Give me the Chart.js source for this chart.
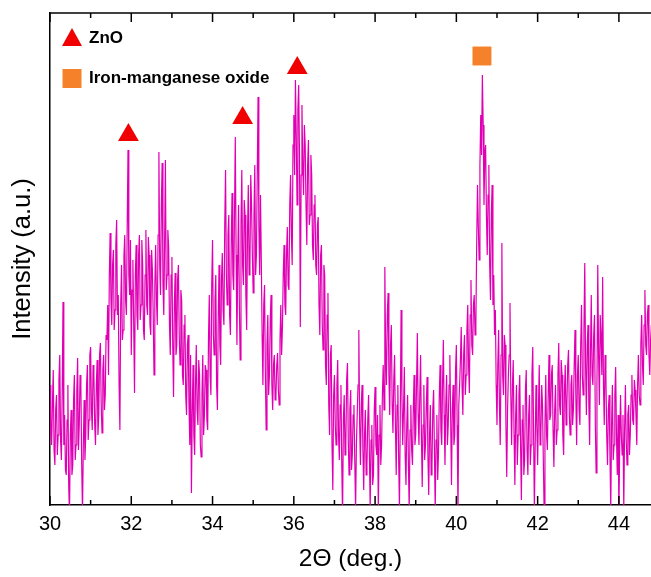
<!DOCTYPE html>
<html>
<head>
<meta charset="utf-8">
<script src="https://cdn.jsdelivr.net/npm/chart.js@4.4.1/dist/chart.umd.min.js"></script>
<style>
  html, body { margin: 0; padding: 0; background: #fff; overflow: hidden; }
  #c { display: block; }
</style>
</head>
<body>
<canvas id="c" width="651" height="577"></canvas>
<script>
// ---- data ----
const thetaStart = 30.0;   // first 2θ sample (deg)
const thetaStep = 0.02;    // sampling step (deg)
const intensity = [
  // 30.00 – 30.98
  120,70,60,100,135,55,40,95,110,50,70,125,150,65,45,110,203,60,90,35,30,85,120,20,-10,70,95,30,40,105,130,45,60,115,147,55,80,130,120,40,-8,60,105,45,70,120,140,65,85,150,
  // 31.00 – 31.98
  158,95,75,140,130,80,60,120,145,70,90,150,162,100,72,135,150,95,110,170,165,200,130,230,272,205,180,240,255,175,195,260,285,190,210,120,75,200,240,165,175,250,270,205,190,280,355,230,210,265,
  // 32.00 – 32.98
  150,215,245,180,112,230,260,190,175,250,270,185,200,265,240,175,165,230,275,200,190,268,250,180,170,255,235,190,130,220,260,205,180,270,353,240,210,300,342,220,190,260,345,215,230,275,258,180,150,230,
  // 33.00 – 33.98
  248,160,108,200,232,150,160,225,240,170,140,215,205,130,120,180,190,110,90,160,170,100,60,150,12,90,140,70,50,120,160,95,80,145,130,60,48,110,150,70,90,140,135,85,75,165,210,130,110,220,
  // 34.00 – 34.98
  265,170,150,205,230,120,95,185,240,160,140,225,252,195,180,280,335,230,200,270,290,190,170,260,312,230,215,290,368,250,160,240,300,200,145,280,335,240,220,305,290,210,175,270,320,230,240,330,300,250,
  // 35.00 – 35.98
  212,290,340,230,250,330,408,280,230,310,245,170,120,200,220,130,75,160,190,110,130,185,210,120,95,140,150,105,110,140,152,115,100,165,200,150,178,230,260,200,190,250,278,220,215,300,330,270,240,360,
  // 36.00 – 36.98
  390,330,425,370,300,395,420,350,178,330,400,340,310,380,360,300,260,340,365,280,290,350,330,260,245,300,310,240,230,280,288,200,170,250,260,180,155,240,230,140,120,190,212,100,70,150,160,60,15,110,
  // 37.00 – 37.98
  130,80,60,120,145,70,45,100,120,40,-10,85,110,50,60,125,142,65,30,95,115,35,50,90,100,45,-5,60,90,120,175,80,40,100,120,55,15,70,95,30,40,85,110,50,-5,65,80,20,30,95,
  // 38.00 – 38.98
  118,60,50,90,-8,70,100,40,60,110,140,95,238,150,120,190,212,130,90,160,180,100,72,125,150,80,30,100,120,45,-5,90,195,110,60,95,138,50,20,80,110,40,-6,75,100,55,40,95,130,60,
  // 39.00 – 39.98
  70,120,172,90,60,110,150,70,18,80,120,45,60,100,128,50,10,70,100,30,40,95,115,55,-5,65,90,25,50,110,140,75,60,120,165,90,40,100,130,60,80,120,150,85,20,95,120,60,70,135,
  // 40.00 – 40.98
  160,80,-8,100,120,145,178,120,90,150,170,110,130,175,200,140,112,190,225,160,150,200,210,170,180,260,320,280,245,340,390,350,430,380,300,350,360,290,250,310,340,240,205,290,320,200,230,170,195,120,
  // 41.00 – 41.98
  80,140,175,100,60,150,262,130,110,170,160,80,28,95,130,150,202,110,60,120,145,70,20,90,120,40,70,110,130,60,5,85,100,30,45,115,135,55,30,90,110,40,60,130,158,75,-5,60,120,80,
  // 42.00 – 42.98
  40,95,140,60,70,120,100,45,-5,80,130,70,55,110,150,85,90,130,140,75,38,95,120,60,75,130,162,100,90,145,130,70,50,115,140,80,100,140,155,90,70,120,130,80,95,140,175,110,60,130,
  // 43.00 – 43.98
  150,95,80,160,200,130,110,175,242,140,90,160,180,100,60,150,210,130,120,170,190,80,32,120,240,150,100,190,170,130,228,120,80,150,130,70,40,95,110,50,-5,80,120,45,60,110,138,70,30,90,
  // 44.00 – 44.80
  -8,60,110,70,50,90,-5,75,120,65,40,90,100,50,70,110,130,85,80,125,115,90,60,120,150,110,100,160,190,140,120,180,215,160,150,190,200,150,130,165,180
];
const znoPeaks = [31.93, 34.74, 36.085];        // 2θ of ZnO markers
const znoMarkerLevel = [370, 387, 437];          // marker heights
const femnPeaks = [40.63];                       // 2θ of iron-manganese oxide marker
const femnMarkerLevel = [449];
const majorTicks = [30, 32, 34, 36, 38, 40, 42, 44];
const minorTicks = [31, 33, 35, 37, 39, 41, 43];
const seriesLabels = ['ZnO', 'Iron-manganese oxide'];
const xTitle = '2\u0398 (deg.)';
const yTitle = 'Intensity (a.u.)';

// ---- build ----
const FONT = 'Arial, "Liberation Sans", Helvetica, sans-serif';
const MAGENTA = '#E000B4';
const RED = '#F00000';
const ORANGE = '#F5822A';

const pattern = intensity.map((v, i) => ({ x: +(thetaStart + thetaStep * i).toFixed(2), y: v }));
const znoPts = znoPeaks.map((t, i) => ({ x: t, y: znoMarkerLevel[i] }));
const femnPts = femnPeaks.map((t, i) => ({ x: t, y: femnMarkerLevel[i] }));

const frame = {
  id: 'frame',
  afterDraw(chart) {
    const { ctx, chartArea: a, scales: { x } } = chart;
    ctx.save();
    ctx.strokeStyle = '#000';
    ctx.lineWidth = 1.5;
    ctx.beginPath();
    ctx.moveTo(a.left - 0.75, a.top);
    ctx.lineTo(a.right, a.top);
    ctx.stroke();
    const tick = (v, len) => {
      const px = x.getPixelForValue(v);
      ctx.beginPath();
      ctx.moveTo(px, a.bottom); ctx.lineTo(px, a.bottom - len);
      ctx.moveTo(px, a.top); ctx.lineTo(px, a.top + len);
      ctx.stroke();
    };
    majorTicks.forEach(v => tick(v, 9));
    minorTicks.forEach(v => tick(v, 5));

    // legend inside the plot
    const lx = a.left + 22, tx = a.left + 39;
    ctx.fillStyle = RED;
    ctx.beginPath();
    ctx.moveTo(lx, 28); ctx.lineTo(lx + 10, 46); ctx.lineTo(lx - 10, 46); ctx.closePath();
    ctx.fill();
    ctx.fillStyle = ORANGE;
    ctx.fillRect(lx - 9.5, 69, 19, 19);
    ctx.fillStyle = '#000';
    ctx.font = 'bold 17px ' + FONT;
    ctx.textBaseline = 'middle';
    ctx.textAlign = 'left';
    ctx.fillText(seriesLabels[0], tx, 38);
    ctx.fillText(seriesLabels[1], tx, 78);
    ctx.restore();
  }
};

new Chart(document.getElementById('c'), {
  type: 'line',
  data: {
    datasets: [
      {
        label: 'XRD',
        data: pattern,
        borderColor: MAGENTA,
        borderWidth: 1.2,
        pointRadius: 0,
        tension: 0,
        fill: false,
        order: 2
      },
      {
        type: 'scatter',
        label: seriesLabels[0],
        data: znoPts,
        pointStyle: 'triangle',
        pointRadius: 12,
        backgroundColor: RED,
        borderColor: RED,
        borderWidth: 0,
        clip: false,
        order: 1
      },
      {
        type: 'scatter',
        label: seriesLabels[1],
        data: femnPts,
        pointStyle: 'rect',
        pointRadius: 13.4,
        backgroundColor: ORANGE,
        borderColor: ORANGE,
        borderWidth: 0,
        clip: false,
        order: 1
      }
    ]
  },
  options: {
    responsive: false,
    maintainAspectRatio: false,
    devicePixelRatio: 1,
    animation: false,
    layout: { autoPadding: false, padding: { top: 13, right: 0, left: 0, bottom: 0 } },
    plugins: { legend: { display: false }, tooltip: { enabled: false } },
    scales: {
      x: {
        type: 'linear',
        min: 30,
        max: 44.79,
        afterFit: s => { s.height = 72; s.paddingRight = 0; },
        ticks: {
          stepSize: 2,
          includeBounds: false,
          color: '#000',
          padding: 7,
          maxRotation: 0,
          font: { family: FONT, size: 20 }
        },
        grid: { display: false, drawTicks: false },
        border: { display: true, color: '#000', width: 1.5 },
        title: {
          display: true,
          text: xTitle,
          color: '#000',
          font: { family: FONT, size: 24.5 },
          padding: { top: 0, bottom: 3 }
        }
      },
      y: {
        type: 'linear',
        min: 0,
        max: 492,
        afterFit: s => { s.width = 50; },
        ticks: { display: false },
        grid: { display: false, drawTicks: false },
        border: { display: true, color: '#000', width: 1.5 },
        title: {
          display: true,
          text: yTitle,
          color: '#000',
          font: { family: FONT, size: 25.5 },
          padding: { top: 8, bottom: 0 }
        }
      }
    }
  },
  plugins: [frame]
});
</script>
</body>
</html>
